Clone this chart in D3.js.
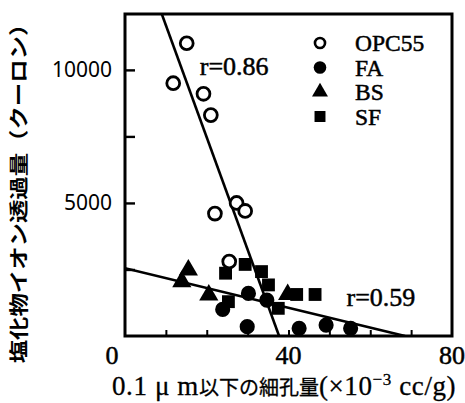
<!DOCTYPE html>
<html>
<head>
<meta charset="utf-8">
<script src="https://cdn.jsdelivr.net/npm/d3@7"></script>
<style>
  html, body { margin: 0; padding: 0; background: #fff; }
  svg { display: block; }
</style>
</head>
<body>
<svg id="chart" width="465" height="403"></svg>
<script>
// Pore volume below 0.1 µm (×10^-3 cc/g) vs. chloride ion penetration (coulombs)
const opc55 = [[15.1, 11000], [11.8, 9500], [19.2, 9100], [21.0, 8300], [22.0, 4600], [27.3, 5000], [29.4, 4700], [25.5, 2800]];
const fa    = [[23.9, 1000], [30.2, 1600], [34.7, 1350], [29.9, 350], [42.6, 290], [49.2, 410], [55.2, 290]];
const bs    = [[15.5, 2480], [13.9, 2040], [20.5, 1540], [39.8, 1560]];
const sf    = [[24.6, 2360], [29.4, 2690], [33.4, 2420], [35.1, 1920], [25.3, 1290], [37.5, 1040], [42.0, 1560], [46.5, 1560]];

// Regression lines (endpoints) and their correlation labels
const fitOpc = [[9.0, 12100], [37.7, 0]];
const fitMix = [[0, 2545], [68.5, 0]];
const rLabels = [{ text: "r=0.86", at: [18.3, 9800] }, { text: "r=0.59", at: [54.2, 1120] }];

const xTicks = [0, 40, 80];
const xMinor = [10, 20, 30, 40, 50, 60, 70];
const yTicks = [5000, 10000];
const yMinor = [2500, 5000, 7500, 10000];
const legendItems = ["OPC55", "FA", "BS", "SF"];

const svg = d3.select("#chart");
const serif = "'Liberation Serif', 'Times New Roman', serif";
const cjk = "'Noto Sans CJK JP', sans-serif";

const x = d3.scaleLinear().domain([0, 80]).range([125, 452]);
const y = d3.scaleLinear().domain([0, 12100]).range([336, 14]);

// regression lines, clipped to the frame
svg.append("clipPath").attr("id", "plotClip")
  .append("rect").attr("x", x(0)).attr("y", y(12100)).attr("width", x(80) - x(0)).attr("height", y(0) - y(12100));
const line = d3.line().x(d => x(d[0])).y(d => y(d[1]));
const fits = svg.append("g").attr("clip-path", "url(#plotClip)");
[fitOpc, fitMix].forEach(f => fits.append("path").attr("d", line(f))
  .attr("fill", "none").attr("stroke", "#000").attr("stroke-width", 2.6));

// markers
const sym = {
  circle: d3.symbol().type(d3.symbolCircle),
  triangle: d3.symbol().type(d3.symbolTriangle),
  square: d3.symbol().type(d3.symbolSquare)
};
function drawSeries(data, kind) {
  const g = svg.append("g");
  data.forEach(d => {
    const p = g.append("path").attr("transform", `translate(${x(d[0])},${y(d[1])})`);
    if (kind === "open") {
      p.attr("d", sym.circle.size(130)()).attr("fill", "#fff").attr("stroke", "#000").attr("stroke-width", 2.8);
    } else if (kind === "dot") {
      p.attr("d", sym.circle.size(180)()).attr("fill", "#000");
    } else if (kind === "tri") {
      p.attr("d", sym.triangle.size(160)()).attr("fill", "#000");
    } else {
      p.attr("d", sym.square.size(165)()).attr("fill", "#000");
    }
  });
}
drawSeries(fa, "dot");
drawSeries(bs, "tri");
drawSeries(sf, "sq");
drawSeries(opc55, "open");

// frame
svg.append("rect").attr("x", x(0)).attr("y", y(12100))
  .attr("width", x(80) - x(0)).attr("height", y(0) - y(12100))
  .attr("fill", "none").attr("stroke", "#000").attr("stroke-width", 3);

// inward ticks
const xAxis = d3.axisTop(x).tickValues(xMinor).tickSize(6).tickFormat("");
svg.append("g").attr("transform", `translate(0,${y(0)})`).call(xAxis)
  .call(g => g.select(".domain").remove())
  .selectAll("line").attr("stroke-width", 2);
const yAxis = d3.axisRight(y).tickValues(yMinor).tickSize(10).tickFormat("");
svg.append("g").attr("transform", `translate(${x(0)},0)`).call(yAxis)
  .call(g => g.select(".domain").remove())
  .selectAll("line").attr("stroke-width", 2.4);

// heavier serif text, like a printed figure
function heavy(sel) {
  return sel.attr("fill", "#000").attr("stroke", "#000").attr("stroke-width", 0.5);
}

// tick labels
heavy(svg.append("g").selectAll("text").data(xTicks).join("text")
  .attr("x", d => d === 0 ? x(d) - 13 : x(d))
  .attr("y", 364)
  .attr("text-anchor", "middle")
  .attr("font-family", serif).attr("font-size", 26)
  .text(d => d));
svg.append("g").selectAll("text").data(yTicks).join("text")
  .attr("x", 112).attr("y", d => y(d) + 7)
  .attr("text-anchor", "end")
  .attr("fill", "#000")
  .attr("font-family", "'Noto Sans', sans-serif").attr("font-size", 21)
  .text(d => d);

// r labels
heavy(svg.append("g").selectAll("text").data(rLabels).join("text")
  .attr("x", d => x(d.at[0])).attr("y", d => y(d.at[1]))
  .attr("font-family", serif).attr("font-size", 26)
  .text(d => d.text));

// legend
const lg = svg.append("g");
legendItems.forEach((name, i) => {
  const cy = 43 + i * 24.5;
  const p = lg.append("path").attr("transform", `translate(320,${cy})`);
  if (i === 0) p.attr("d", sym.circle.size(80)()).attr("fill", "#fff").attr("stroke", "#000").attr("stroke-width", 2.6);
  else if (i === 1) p.attr("d", sym.circle.size(125)()).attr("fill", "#000");
  else if (i === 2) p.attr("d", sym.triangle.size(110)()).attr("fill", "#000");
  else p.attr("d", sym.square.size(120)()).attr("fill", "#000");
  heavy(lg.append("text").attr("x", 355).attr("y", cy + 8)
    .attr("font-family", serif).attr("font-size", 23.5).text(name));
});

// x-axis title
const xt = heavy(svg.append("text").attr("x", 112).attr("y", 395)
  .attr("font-family", serif).attr("font-size", 27).attr("letter-spacing", 0.6)).attr("stroke-width", 0.3);
xt.append("tspan").text("0.1 μ m");
xt.append("tspan").attr("font-family", cjk).attr("font-size", 20).attr("letter-spacing", 0).text("以下の細孔量");
xt.append("tspan").text("(×10");
xt.append("tspan").attr("dy", -10).attr("font-size", 17).text("−3");
xt.append("tspan").attr("dy", 10).text(" cc/g)");

// y-axis title
svg.append("text")
  .attr("transform", "translate(26,188) rotate(-90) scale(1.2,1)")
  .attr("text-anchor", "middle")
  .attr("fill", "#000")
  .attr("font-family", cjk).attr("font-weight", 700)
  .attr("font-size", 19.5)
  .text("塩化物イオン透過量（クーロン）");
</script>
</body>
</html>
